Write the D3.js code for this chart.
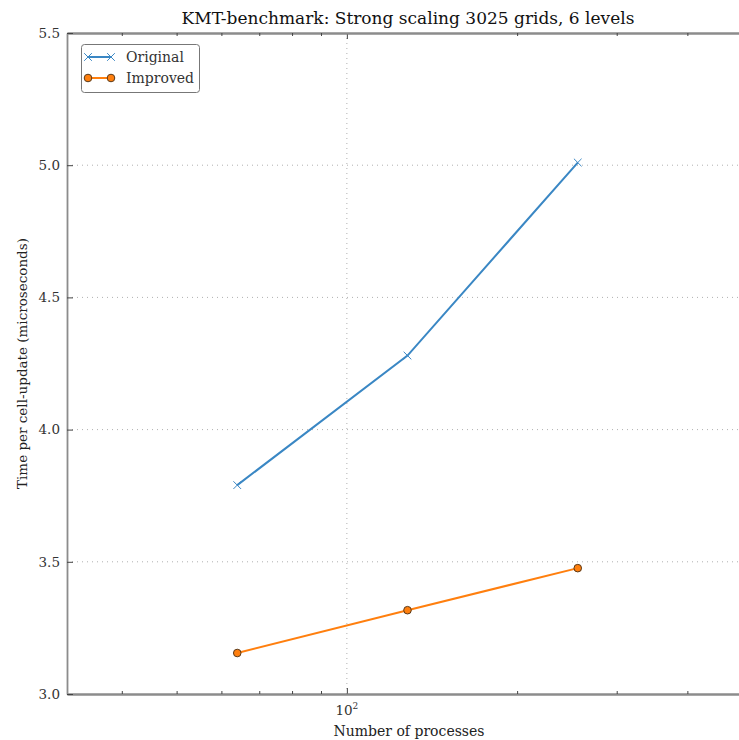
<!DOCTYPE html>
<html>
<head>
<meta charset="utf-8">
<script src="https://cdn.jsdelivr.net/npm/d3@7"></script>
<style>
  body { margin: 0; background: #fff; }
  svg { display: block; font-family: "DejaVu Serif", serif; }
</style>
</head>
<body>
<div id="container"></div>
<script>
// chart data
const processes = [64, 128, 256];
const original = [3.79, 4.28, 5.01];
const improved = [3.155, 3.317, 3.476];
const yTicks = [3.0, 3.5, 4.0, 4.5, 5.0, 5.5];
const xMinorTicks = [40, 50, 60, 70, 80, 90, 200, 300, 400, 500];

const width = 739, height = 740;
const margin = { top: 33, left: 67, bottom: 46, plotRight: 748 };

const svg = d3.select('#container')
  .append('svg')
  .attr('width', width)
  .attr('height', height);

const x = d3.scaleLog().domain([32, 512]).range([margin.left, margin.plotRight]);
const y = d3.scaleLinear().domain([3.0, 5.5]).range([height - margin.bottom, margin.top]);

const axisColor = '#8c8c8c';
const textColor = '#333';

// grid
const grid = svg.append('g');
grid.selectAll('.hgrid')
  .data(yTicks.slice(1, -1))
  .join('line')
  .attr('x1', margin.left).attr('x2', margin.plotRight)
  .attr('y1', d => y(d)).attr('y2', d => y(d))
  .attr('stroke', '#b0b0b0')
  .attr('stroke-width', 1)
  .attr('stroke-dasharray', '1,4');
grid.append('line')
  .attr('x1', x(100)).attr('x2', x(100))
  .attr('y1', y(3.0)).attr('y2', y(5.5))
  .attr('stroke', '#b0b0b0')
  .attr('stroke-width', 1)
  .attr('stroke-dasharray', '1,4');

// axes: ticks point inward
const bottomAxis = d3.axisBottom(x).tickValues([100]).tickSizeInner(-6).tickSizeOuter(0).tickFormat(() => '');
const bottomMinor = d3.axisBottom(x).tickValues(xMinorTicks).tickSizeInner(-3).tickSizeOuter(0).tickFormat(() => '');
const topAxis = d3.axisTop(x).tickValues([100]).tickSizeInner(-6).tickSizeOuter(0).tickFormat(() => '');
const topMinor = d3.axisTop(x).tickValues(xMinorTicks).tickSizeInner(-3).tickSizeOuter(0).tickFormat(() => '');
const leftAxis = d3.axisLeft(y).tickValues(yTicks).tickSizeInner(-6).tickSizeOuter(0).tickPadding(7).tickFormat(d3.format('.1f'));

function styleAxis(g) {
  g.select('.domain').attr('stroke', axisColor).attr('stroke-width', 1.8);
  g.selectAll('.tick line').attr('stroke', '#444').attr('stroke-width', 1);
  g.selectAll('.tick text').attr('fill', textColor).style('font-size', '13.5px').style('font-family', '"DejaVu Serif", serif');
}

svg.append('g').attr('transform', `translate(0,${y(3.0)})`).call(bottomAxis).call(styleAxis);
svg.append('g').attr('transform', `translate(0,${y(3.0)})`).call(bottomMinor).call(styleAxis);
svg.append('g').attr('transform', `translate(0,${y(5.5)})`).call(topAxis).call(styleAxis);
svg.append('g').attr('transform', `translate(0,${y(5.5)})`).call(topMinor).call(styleAxis);
svg.append('g').attr('transform', `translate(${margin.left},0)`).call(leftAxis).call(styleAxis);

// x major label 10^2
const xl = svg.append('text')
  .attr('x', x(100)).attr('y', y(3.0) + 21)
  .attr('text-anchor', 'middle')
  .attr('fill', textColor)
  .style('font-size', '13.5px');
xl.append('tspan').text('10');
xl.append('tspan').attr('dy', -6).style('font-size', '9px').text('2');

// lines
const line = d3.line().x(d => x(d[0])).y(d => y(d[1]));
const origPts = processes.map((p, i) => [p, original[i]]);
const impPts = processes.map((p, i) => [p, improved[i]]);

const blue = '#3a87c4';
const orange = '#ff7f0e';

svg.append('path')
  .datum(origPts)
  .attr('d', line)
  .attr('fill', 'none')
  .attr('stroke', blue)
  .attr('stroke-width', 2);

svg.append('path')
  .datum(impPts)
  .attr('d', line)
  .attr('fill', 'none')
  .attr('stroke', orange)
  .attr('stroke-width', 2);

const cross = d3.symbol().type(d3.symbolX).size(40);
svg.selectAll('.xmark')
  .data(origPts)
  .join('path')
  .attr('transform', d => `translate(${x(d[0])},${y(d[1])})`)
  .attr('d', cross)
  .attr('fill', 'none')
  .attr('stroke', blue)
  .attr('stroke-width', 1);

svg.selectAll('.omark')
  .data(impPts)
  .join('circle')
  .attr('cx', d => x(d[0]))
  .attr('cy', d => y(d[1]))
  .attr('r', 3.8)
  .attr('fill', orange)
  .attr('stroke', '#5a3a1a')
  .attr('stroke-width', 1);

// legend
const legend = svg.append('g');
legend.append('rect')
  .attr('x', 81.5).attr('y', 44.5)
  .attr('width', 118).attr('height', 48)
  .attr('rx', 3)
  .attr('fill', '#fff')
  .attr('stroke', '#777')
  .attr('stroke-width', 1);

const entries = [
  { label: 'Original', color: blue, marker: 'x', yy: 57 },
  { label: 'Improved', color: orange, marker: 'o', yy: 78 }
];
entries.forEach(e => {
  legend.append('line')
    .attr('x1', 88).attr('x2', 111)
    .attr('y1', e.yy).attr('y2', e.yy)
    .attr('stroke', e.color).attr('stroke-width', 2);
  [88, 111].forEach(cx => {
    if (e.marker === 'x') {
      legend.append('path')
        .attr('transform', `translate(${cx},${e.yy})`)
        .attr('d', cross)
        .attr('fill', 'none').attr('stroke', e.color).attr('stroke-width', 1);
    } else {
      legend.append('circle')
        .attr('cx', cx).attr('cy', e.yy).attr('r', 3.8)
        .attr('fill', e.color).attr('stroke', '#5a3a1a').attr('stroke-width', 1);
    }
  });
  legend.append('text')
    .attr('x', 126).attr('y', e.yy + 5)
    .attr('fill', textColor)
    .style('font-size', '14px')
    .text(e.label);
});

// title and labels
svg.append('text')
  .attr('x', 408).attr('y', 24)
  .attr('text-anchor', 'middle')
  .attr('fill', '#111')
  .style('font-size', '17px')
  .text('KMT-benchmark: Strong scaling 3025 grids, 6 levels');

svg.append('text')
  .attr('x', 409).attr('y', 736)
  .attr('text-anchor', 'middle')
  .attr('fill', '#222')
  .style('font-size', '14px')
  .text('Number of processes');

svg.append('text')
  .attr('transform', `translate(27,${(y(3.0) + y(5.5)) / 2}) rotate(-90)`)
  .attr('text-anchor', 'middle')
  .attr('fill', '#222')
  .style('font-size', '13.5px')
  .text('Time per cell-update (microseconds)');
</script>
</body>
</html>
